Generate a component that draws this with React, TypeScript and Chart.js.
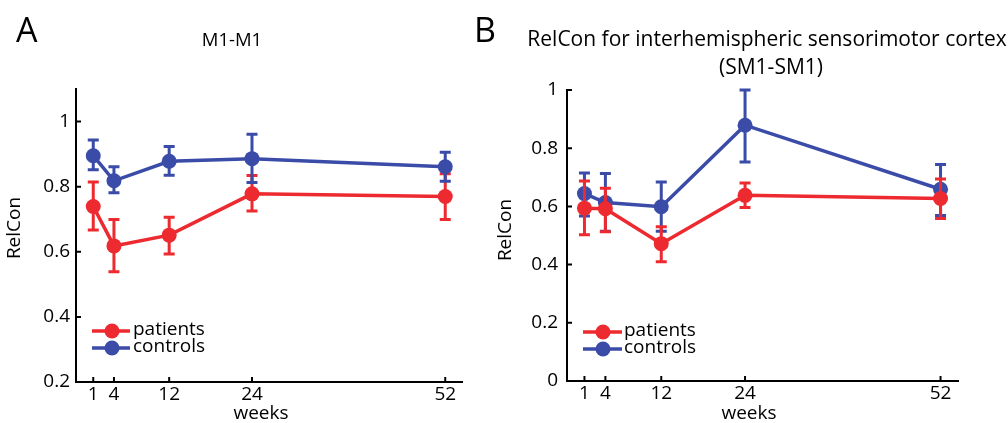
import React, { useEffect, useRef } from "react";
import { Chart, registerables } from "chart.js";
Chart.register(...registerables);

// ---------- data ----------
const weeks = [1, 4, 12, 24, 52];

const aPatients = [0.739, 0.618, 0.651, 0.778, 0.770];
const aPatientsLo = [0.667, 0.539, 0.593, 0.725, 0.699];
const aPatientsHi = [0.814, 0.699, 0.706, 0.834, 0.840];
const aControls = [0.895, 0.818, 0.878, 0.886, 0.861];
const aControlsLo = [0.852, 0.781, 0.835, 0.813, 0.817];
const aControlsHi = [0.943, 0.861, 0.923, 0.961, 0.906];

const bPatients = [0.594, 0.592, 0.472, 0.638, 0.627];
const bPatientsLo = [0.503, 0.513, 0.410, 0.596, 0.558];
const bPatientsHi = [0.687, 0.662, 0.530, 0.680, 0.694];
const bControls = [0.644, 0.613, 0.599, 0.879, 0.659];
const bControlsLo = [0.567, 0.515, 0.515, 0.753, 0.569];
const bControlsHi = [0.715, 0.713, 0.684, 1.0, 0.744];

const aYTicks = [0.2, 0.4, 0.6, 0.8, 1];
const bYTicks = [0, 0.2, 0.4, 0.6, 0.8, 1];

const seriesNames = ["patients", "controls"];
const xTitle = "weeks";
const yTitle = "RelCon";
const aTitle = ["M1-M1"];
const bTitle = ["RelCon for interhemispheric sensorimotor cortex", "(SM1-SM1)"];

// ---------- styles ----------
const RED = "#ED2A2F";
const BLUE = "#3B4BA8";
const FONT = "'Open Sans', 'DejaVu Sans', sans-serif";

type PanelCfg = {
  letter: string;
  title: string[];
  titleSize: number;
  yMin: number;
  yMax: number;
  yTicks: number[];
  patients: number[];
  patientsLo: number[];
  patientsHi: number[];
  controls: number[];
  controlsLo: number[];
  controlsHi: number[];
  controlsOnTop: boolean;
  canvasLeft: number;
  canvasWidth: number;
  pad: { left: number; right: number; top: number };
  yAxisWidth: number;
  xAxisHeight: number;
  yTickPad: number;
  letterX: number;
  titleX: number[];
  titleY: number[];
  yLabelX: number;
  yLabelY: number;
  xLabelX: number;
  xLabelY: number;
  legLineX0: number;
  legLineX1: number;
  legMarkX: number;
  legTextX: number;
  legY: number[];
};

const fmt = (v: number) => (v === 0 ? "0" : v === 1 ? "1" : v.toFixed(1));

function makeChart(canvas: HTMLCanvasElement, cfg: PanelCfg) {
  const mk = (vals: number[]) => vals.map((v, i) => ({ x: weeks[i], y: v }));
  const errPlugin = {
    id: "errbars",
    beforeDatasetDraw(chart: any, args: any) {
      const ds = chart.data.datasets[args.index];
      const xs = chart.scales.x;
      const ys = chart.scales.y;
      const ctx = chart.ctx;
      ctx.save();
      ctx.strokeStyle = ds.borderColor;
      ctx.lineWidth = 3;
      ctx.lineCap = "butt";
      for (let i = 0; i < weeks.length; i++) {
        const px = xs.getPixelForValue(weeks[i]);
        const lo = ys.getPixelForValue(ds.errLo[i]);
        const hi = ys.getPixelForValue(ds.errHi[i]);
        ctx.beginPath();
        ctx.moveTo(px, lo);
        ctx.lineTo(px, hi);
        ctx.moveTo(px - 5.5, lo);
        ctx.lineTo(px + 5.5, lo);
        ctx.moveTo(px - 5.5, hi);
        ctx.lineTo(px + 5.5, hi);
        ctx.stroke();
      }
      ctx.restore();
    },
  };
  const decoPlugin = {
    id: "deco",
    afterDraw(chart: any) {
      const ctx = chart.ctx;
      const xs = chart.scales.x;
      const ys = chart.scales.y;
      const ca = chart.chartArea;
      ctx.save();
      // inward ticks
      ctx.strokeStyle = "#000";
      ctx.lineWidth = 2;
      ctx.beginPath();
      for (const t of cfg.yTicks) {
        const py = ys.getPixelForValue(t);
        ctx.moveTo(ca.left, py);
        ctx.lineTo(ca.left + 5, py);
      }
      for (const w of weeks) {
        const px = xs.getPixelForValue(w);
        ctx.moveTo(px, ca.bottom);
        ctx.lineTo(px, ca.bottom - 5);
      }
      ctx.stroke();

      ctx.fillStyle = "#000";
      // panel letter
      ctx.font = `34px ${FONT}`;
      ctx.textAlign = "left";
      ctx.textBaseline = "alphabetic";
      ctx.fillText(cfg.letter, cfg.letterX, 42);
      // title
      ctx.font = `${cfg.titleSize}px ${FONT}`;
      ctx.textAlign = "center";
      ctx.textBaseline = "middle";
      cfg.title.forEach((t, i) => ctx.fillText(t, cfg.titleX[i], cfg.titleY[i]));
      // x title
      ctx.font = `19px ${FONT}`;
      ctx.fillText(xTitle, cfg.xLabelX, cfg.xLabelY);
      // y title
      ctx.save();
      ctx.translate(cfg.yLabelX, cfg.yLabelY);
      ctx.rotate(-Math.PI / 2);
      ctx.fillText(yTitle, 0, 0);
      ctx.restore();
      // legend
      const cols = [RED, BLUE];
      seriesNames.forEach((name, i) => {
        const y = cfg.legY[i];
        ctx.strokeStyle = cols[i];
        ctx.lineWidth = 3.5;
        ctx.beginPath();
        ctx.moveTo(cfg.legLineX0, y);
        ctx.lineTo(cfg.legLineX1, y);
        ctx.stroke();
        ctx.fillStyle = cols[i];
        ctx.beginPath();
        ctx.arc(cfg.legMarkX, y, 7.5, 0, Math.PI * 2);
        ctx.fill();
        ctx.fillStyle = "#000";
        ctx.textAlign = "left";
        ctx.textBaseline = "middle";
        ctx.font = `19px ${FONT}`;
        ctx.fillText(name, cfg.legTextX, y - 1);
      });
      ctx.restore();
    },
  };

  const lineDs = (label: string, vals: number[], lo: number[], hi: number[], color: string, order: number) => ({
    label,
    data: mk(vals),
    errLo: lo,
    errHi: hi,
    borderColor: color,
    backgroundColor: color,
    borderWidth: 3.5,
    pointRadius: 7.5,
    pointBorderWidth: 0,
    pointBackgroundColor: color,
    tension: 0,
    clip: false,
    order,
  });

  return new Chart(canvas, {
    type: "line",
    data: {
      datasets: [
        lineDs(seriesNames[0], cfg.patients, cfg.patientsLo, cfg.patientsHi, RED, cfg.controlsOnTop ? 1 : 0),
        lineDs(seriesNames[1], cfg.controls, cfg.controlsLo, cfg.controlsHi, BLUE, cfg.controlsOnTop ? 0 : 1),
      ] as any,
    },
    options: {
      responsive: false,
      animation: false,
      events: [],
      layout: { padding: { left: cfg.pad.left, right: cfg.pad.right, top: cfg.pad.top, bottom: 0 } },
      plugins: { legend: { display: false }, tooltip: { enabled: false }, title: { display: false } },
      scales: {
        x: {
          type: "linear",
          min: -1.5,
          max: 54.5,
          grid: { display: false, drawTicks: false, tickLength: 0 },
          border: { display: true, color: "#000", width: 2 },
          afterBuildTicks: (s: any) => {
            s.ticks = weeks.map((v) => ({ value: v }));
          },
          afterFit: (s: any) => {
            s.height = cfg.xAxisHeight;
          },
          ticks: {
            color: "#000",
            font: { size: 19, family: FONT },
            padding: 1,
            maxRotation: 0,
            autoSkip: false,
            callback: (v: any) => String(v),
          },
        },
        y: {
          type: "linear",
          min: cfg.yMin,
          max: cfg.yMax,
          grid: { display: false, drawTicks: false, tickLength: 0 },
          border: { display: true, color: "#000", width: 2 },
          afterBuildTicks: (s: any) => {
            s.ticks = cfg.yTicks.map((v) => ({ value: v }));
          },
          afterFit: (s: any) => {
            s.width = cfg.yAxisWidth;
          },
          ticks: {
            color: "#000",
            font: { size: 19, family: FONT },
            padding: cfg.yTickPad,
            autoSkip: false,
            callback: (v: any) => fmt(Number(v)),
          },
        },
      },
    } as any,
    plugins: [errPlugin, decoPlugin],
  });
}

const panelA: PanelCfg = {
  letter: "A",
  title: aTitle,
  titleSize: 18.5,
  yMin: 0.2,
  yMax: 1.1,
  yTicks: aYTicks,
  patients: aPatients,
  patientsLo: aPatientsLo,
  patientsHi: aPatientsHi,
  controls: aControls,
  controlsLo: aControlsLo,
  controlsHi: aControlsHi,
  controlsOnTop: true,
  canvasLeft: 0,
  canvasWidth: 470,
  pad: { left: 0, right: 1, top: 89 },
  yAxisWidth: 76,
  xAxisHeight: 41,
  yTickPad: 6,
  letterX: 16,
  titleX: [232],
  titleY: [41],
  yLabelX: 15,
  yLabelY: 228,
  xLabelX: 261,
  xLabelY: 414,
  legLineX0: 92,
  legLineX1: 130,
  legMarkX: 112,
  legTextX: 133,
  legY: [331, 348],
};

const panelB: PanelCfg = {
  letter: "B",
  title: bTitle,
  titleSize: 21,
  yMin: 0,
  yMax: 1,
  yTicks: bYTicks,
  patients: bPatients,
  patientsLo: bPatientsLo,
  patientsHi: bPatientsHi,
  controls: bControls,
  controlsLo: bControlsLo,
  controlsHi: bControlsHi,
  controlsOnTop: false,
  canvasLeft: 470,
  canvasWidth: 538,
  pad: { left: 0, right: 50, top: 90 },
  yAxisWidth: 97,
  xAxisHeight: 42,
  yTickPad: 9,
  letterX: 4,
  titleX: [297, 301],
  titleY: [40, 68],
  yLabelX: 36,
  yLabelY: 230,
  xLabelX: 279,
  xLabelY: 414,
  legLineX0: 113,
  legLineX1: 152,
  legMarkX: 133,
  legTextX: 154,
  legY: [332, 349],
};

function Panel({ cfg }: { cfg: PanelCfg }) {
  const ref = useRef<HTMLCanvasElement>(null);
  useEffect(() => {
    const chart = makeChart(ref.current!, cfg);
    return () => chart.destroy();
  }, []);
  return (
    <div style={{ position: "absolute", left: cfg.canvasLeft, top: 0, width: cfg.canvasWidth, height: 423 }}>
      <canvas ref={ref} width={cfg.canvasWidth} height={423} style={{ display: "block", width: cfg.canvasWidth, height: 423 }} />
    </div>
  );
}

export default function App() {
  return (
    <div style={{ position: "absolute", left: 0, top: 0, width: 1008, height: 423, background: "#fff" }}>
      <Panel cfg={panelA} />
      <Panel cfg={panelB} />
    </div>
  );
}
